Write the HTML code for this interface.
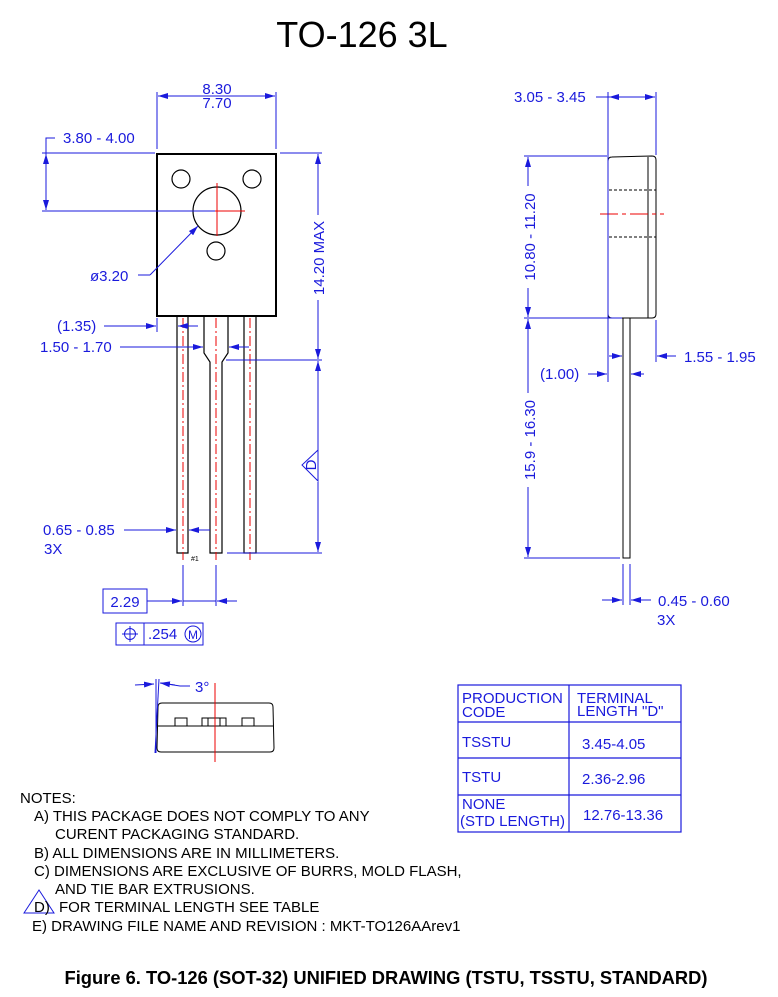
<!DOCTYPE html>
<html><head><meta charset="utf-8"><style>
html,body{margin:0;padding:0;background:#fff}
svg{display:block}
text{font-family:"Liberation Sans",sans-serif}
.b{fill:#1a1adc;font-size:15px}
.k{fill:#000;font-size:15px}
</style></head><body>
<svg width="778" height="997" viewBox="0 0 778 997" xmlns="http://www.w3.org/2000/svg">
<defs>
<marker id="a" viewBox="0 0 10 6" refX="10" refY="3" markerWidth="10" markerHeight="6" orient="auto-start-reverse" markerUnits="userSpaceOnUse"><path d="M0,0L10,3L0,6z" fill="#1a1adc"/></marker>
</defs>
<text x="362" y="47" font-size="36" text-anchor="middle" fill="#000">TO-126 3L</text>

<!-- FRONT VIEW -->
<g fill="none" stroke="#000" stroke-width="1.2">
<rect x="157" y="154" width="119" height="162" stroke-width="2"/>
<circle cx="181" cy="179" r="9"/><circle cx="252" cy="179" r="9"/>
<circle cx="217" cy="211" r="24"/><circle cx="216" cy="251" r="9"/>
<path d="M177,316V553H188V316"/>
<path d="M204,316V353L210,362V553H222V362L228,353V316"/>
<path d="M244,316V553H256V316"/>
</g>
<g stroke="#e00" stroke-width="1" stroke-dasharray="10,3,2,3">
<line x1="183" y1="318" x2="183" y2="560"/><line x1="216" y1="318" x2="216" y2="560"/><line x1="250" y1="318" x2="250" y2="560"/>
</g>
<g stroke="#e00" stroke-width="1"><line x1="217" y1="183" x2="217" y2="236"/><line x1="200" y1="211" x2="245" y2="211"/></g>

<g stroke="#1a1adc" stroke-width="1" fill="none">
<line x1="157" y1="92" x2="157" y2="149"/><line x1="276" y1="92" x2="276" y2="149"/>
<line x1="158" y1="96" x2="275" y2="96" marker-start="url(#a)" marker-end="url(#a)"/>
<path d="M55,138H46V210" marker-end="url(#a)"/>
<line x1="46" y1="154" x2="46" y2="160" marker-start="url(#a)"/>
<line x1="42" y1="153" x2="155" y2="153"/><line x1="42" y1="211" x2="215" y2="211"/>
<line x1="280" y1="153" x2="322" y2="153"/><line x1="226" y1="360" x2="322" y2="360"/>
<line x1="318" y1="154" x2="318" y2="215" marker-start="url(#a)"/>
<line x1="318" y1="300" x2="318" y2="359" marker-end="url(#a)"/>
<line x1="318" y1="361" x2="318" y2="450" marker-start="url(#a)"/>
<line x1="318" y1="482" x2="318" y2="552" marker-end="url(#a)"/>
<line x1="227" y1="553" x2="322" y2="553"/>
<path d="M318,450L302,465L318,481Z"/>
<path d="M150,275H138"/><line x1="150" y1="275" x2="198" y2="226" marker-end="url(#a)"/>
<line x1="157" y1="318" x2="157" y2="332"/>
<line x1="104" y1="326" x2="156" y2="326" marker-end="url(#a)"/>
<line x1="198" y1="326" x2="178" y2="326" marker-end="url(#a)"/>
<line x1="120" y1="347" x2="203" y2="347" marker-end="url(#a)"/>
<line x1="249" y1="347" x2="229" y2="347" marker-end="url(#a)"/>
<line x1="124" y1="530" x2="176" y2="530" marker-end="url(#a)"/>
<line x1="210" y1="530" x2="189" y2="530" marker-end="url(#a)"/>
<line x1="183" y1="565" x2="183" y2="606"/><line x1="216" y1="565" x2="216" y2="606"/>
<line x1="147" y1="601" x2="182" y2="601" marker-end="url(#a)"/>
<line x1="183" y1="601" x2="216" y2="601"/>
<line x1="237" y1="601" x2="217" y2="601" marker-end="url(#a)"/>
<rect x="103" y="589" width="44" height="24"/>
<rect x="116" y="623" width="87" height="22"/><line x1="144" y1="623" x2="144" y2="645"/>
<circle cx="130" cy="634" r="5.5"/><line x1="122" y1="634" x2="138" y2="634"/><line x1="130" y1="626" x2="130" y2="642"/>
<circle cx="193" cy="634" r="8"/>
</g>
<text class="b" x="217" y="94" text-anchor="middle">8.30</text>
<text class="b" x="217" y="108" text-anchor="middle">7.70</text>
<text class="b" x="63" y="143">3.80 - 4.00</text>
<text class="b" x="90" y="281">ø3.20</text>
<text class="b" x="57" y="331">(1.35)</text>
<text class="b" x="40" y="352">1.50 - 1.70</text>
<text class="b" x="43" y="535">0.65 - 0.85</text>
<text class="b" x="44" y="554">3X</text>
<text x="191" y="561" font-size="7" fill="#000">#1</text>
<text class="b" x="125" y="607" text-anchor="middle">2.29</text>
<text class="b" x="148" y="639">.254</text>
<text x="193" y="639" font-size="12" fill="#1a1adc" text-anchor="middle">M</text>
<text class="b" transform="translate(324,258) rotate(-90)" text-anchor="middle">14.20 MAX</text>
<text class="b" transform="translate(316,465) rotate(-90)" text-anchor="middle" font-size="14">D</text>

<!-- SIDE VIEW -->
<g fill="none" stroke="#000" stroke-width="1">
<path d="M612,157L652,156Q656,156 656,160V314Q656,318 652,318H612Q608,318 608,314V161Q608,157 612,157Z"/>
<line x1="648" y1="157" x2="648" y2="318"/>
<line x1="609" y1="190" x2="656" y2="190" stroke-dasharray="3,2"/>
<line x1="609" y1="237" x2="656" y2="237" stroke-dasharray="3,2"/>
<rect x="623" y="318" width="7" height="240"/>
</g>
<line x1="600" y1="214" x2="664" y2="214" stroke="#e00" stroke-dasharray="18,4,4,4"/>
<g stroke="#1a1adc" stroke-width="1" fill="none">
<line x1="608" y1="92" x2="608" y2="382"/><line x1="656" y1="92" x2="656" y2="155"/>
<line x1="656" y1="320" x2="656" y2="362"/>
<line x1="596" y1="97" x2="655" y2="97" marker-end="url(#a)"/>
<line x1="609" y1="97" x2="630" y2="97" marker-start="url(#a)"/>
<line x1="524" y1="156" x2="607" y2="156"/><line x1="524" y1="318" x2="622" y2="318"/>
<line x1="528" y1="157" x2="528" y2="186" marker-start="url(#a)"/>
<line x1="528" y1="288" x2="528" y2="317" marker-end="url(#a)"/>
<line x1="528" y1="319" x2="528" y2="393" marker-start="url(#a)"/>
<line x1="528" y1="487" x2="528" y2="557" marker-end="url(#a)"/>
<line x1="524" y1="558" x2="620" y2="558"/>
<line x1="609" y1="356" x2="622" y2="356" marker-end="url(#a)"/>
<line x1="676" y1="356" x2="657" y2="356" marker-end="url(#a)"/>
<line x1="588" y1="374" x2="607" y2="374" marker-end="url(#a)"/>
<line x1="644" y1="374" x2="631" y2="374" marker-end="url(#a)"/>
<line x1="623" y1="564" x2="623" y2="605"/><line x1="630" y1="564" x2="630" y2="605"/>
<line x1="602" y1="600" x2="622" y2="600" marker-end="url(#a)"/>
<line x1="651" y1="600" x2="631" y2="600" marker-end="url(#a)"/>
</g>
<text class="b" x="514" y="102">3.05 - 3.45</text>
<text class="b" x="684" y="362">1.55 - 1.95</text>
<text class="b" x="540" y="379">(1.00)</text>
<text class="b" x="658" y="606">0.45 - 0.60</text>
<text class="b" x="657" y="625">3X</text>
<text class="b" transform="translate(535,237) rotate(-90)" text-anchor="middle">10.80 - 11.20</text>
<text class="b" transform="translate(535,440) rotate(-90)" text-anchor="middle">15.9 - 16.30</text>

<!-- BOTTOM VIEW -->
<g fill="none" stroke="#000" stroke-width="1">
<path d="M162,703H269Q273,703 273,707L274,748Q274,752 270,752H161Q157,752 157,748L158,707Q158,703 162,703Z"/>
<line x1="158" y1="726" x2="273" y2="726"/>
<rect x="175" y="718" width="12" height="8"/>
<rect x="202" y="718" width="24" height="8"/><line x1="208" y1="718" x2="208" y2="726"/><line x1="220" y1="718" x2="220" y2="726"/>
<rect x="242" y="718" width="12" height="8"/>
</g>
<line x1="215" y1="683" x2="215" y2="762" stroke="#e00"/>
<g stroke="#1a1adc" stroke-width="1" fill="none">
<line x1="156" y1="679" x2="156" y2="753"/><line x1="159" y1="679" x2="155" y2="753"/>
<line x1="135" y1="685" x2="154" y2="684" marker-end="url(#a)"/>
<path d="M190,686L180,686L161,683"/><line x1="175" y1="685" x2="160" y2="683" marker-end="url(#a)"/>
</g>
<text class="b" x="195" y="692">3°</text>

<!-- TABLE -->
<g stroke="#1a1adc" stroke-width="1.2" fill="none">
<rect x="458" y="685" width="223" height="147"/>
<line x1="569" y1="685" x2="569" y2="832"/>
<line x1="458" y1="722" x2="681" y2="722"/><line x1="458" y1="758" x2="681" y2="758"/><line x1="458" y1="795" x2="681" y2="795"/>
</g>
<text class="b" x="462" y="703">PRODUCTION</text>
<text class="b" x="462" y="717">CODE</text>
<text class="b" x="577" y="703">TERMINAL</text>
<text class="b" x="577" y="716">LENGTH "D"</text>
<text class="b" x="462" y="747">TSSTU</text>
<text class="b" x="582" y="749">3.45-4.05</text>
<text class="b" x="462" y="782">TSTU</text>
<text class="b" x="582" y="784">2.36-2.96</text>
<text class="b" x="462" y="809">NONE</text>
<text class="b" x="460" y="826">(STD LENGTH)</text>
<text class="b" x="583" y="820">12.76-13.36</text>

<!-- NOTES -->
<text class="k" x="20" y="803">NOTES:</text>
<text class="k" x="34" y="821">A) THIS PACKAGE DOES NOT COMPLY TO ANY</text>
<text class="k" x="55" y="839">CURENT PACKAGING STANDARD.</text>
<text class="k" x="34" y="858">B) ALL DIMENSIONS ARE IN MILLIMETERS.</text>
<text class="k" x="34" y="876">C) DIMENSIONS ARE EXCLUSIVE OF BURRS, MOLD FLASH,</text>
<text class="k" x="55" y="894">AND TIE BAR EXTRUSIONS.</text>
<path d="M24,913L39,890L54,913Z" fill="none" stroke="#1a1adc"/>
<text class="k" x="34" y="912">D)</text>
<text class="k" x="59" y="912">FOR TERMINAL LENGTH SEE TABLE</text>
<text class="k" x="32" y="931">E) DRAWING FILE NAME AND REVISION :  MKT-TO126AArev1</text>

<text x="386" y="984" font-size="18" font-weight="bold" text-anchor="middle" fill="#000" textLength="643" lengthAdjust="spacingAndGlyphs">Figure 6. TO-126 (SOT-32) UNIFIED DRAWING (TSTU, TSSTU, STANDARD)</text>
</svg>
</body></html>
